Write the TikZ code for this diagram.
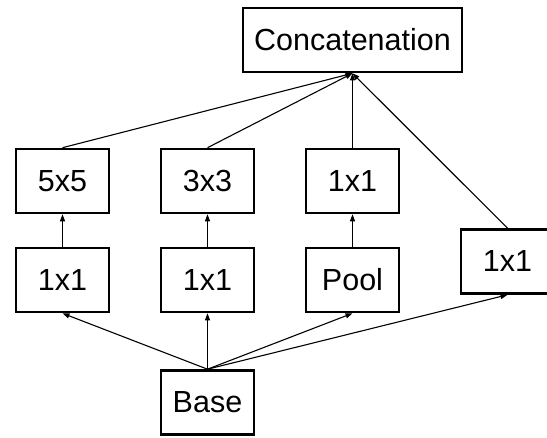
\documentclass[tikz,border=0pt]{standalone}
\usepackage{fontspec}
\setmainfont{Liberation Sans}
\usetikzlibrary{arrows.meta}
\begin{document}
\begin{tikzpicture}[x=1pt,y=-1pt,
  layer/.style={draw, line width=2.6pt, fill=white, minimum width=93pt, minimum height=64pt,
    inner sep=0pt, font=\fontsize{30.5}{34}\selectfont},
  link/.style={line width=1.1pt, -{Triangle[length=7pt,width=5pt]}}]
  \useasboundingbox (0,0) rectangle (547,438);
  % output
  \node[layer, minimum width=219pt] (concat) at (352.5,40) {Concatenation};
  % upper row
  \node[layer] (c5) at (62.5,181) {5x5};
  \node[layer] (c3) at (207.5,181) {3x3};
  \node[layer] (p1) at (352.5,181) {1x1};
  % lower row
  \node[layer] (r1) at (62.5,280) {1x1};
  \node[layer] (r3) at (207.5,280) {1x1};
  \node[layer] (pool) at (352.5,280) {Pool};
  \node[layer] (side) at (507.5,261.5) {1x1};
  % input
  \node[layer] (base) at (207.5,402.5) {Base};
  % connections
  \draw[link] (base.north) -- (r1.south);
  \draw[link] (base.north) -- (r3.south);
  \draw[link] (base.north) -- (pool.south);
  \draw[link] (base.north) -- (side.south);
  \draw[link] (r1.north) -- (c5.south);
  \draw[link] (r3.north) -- (c3.south);
  \draw[link] (pool.north) -- (p1.south);
  \draw[link] (c5.north) -- (concat.south);
  \draw[link] (c3.north) -- (concat.south);
  \draw[link] (p1.north) -- (concat.south);
  \draw[link] (side.north) -- (concat.south);
\end{tikzpicture}
\end{document}
